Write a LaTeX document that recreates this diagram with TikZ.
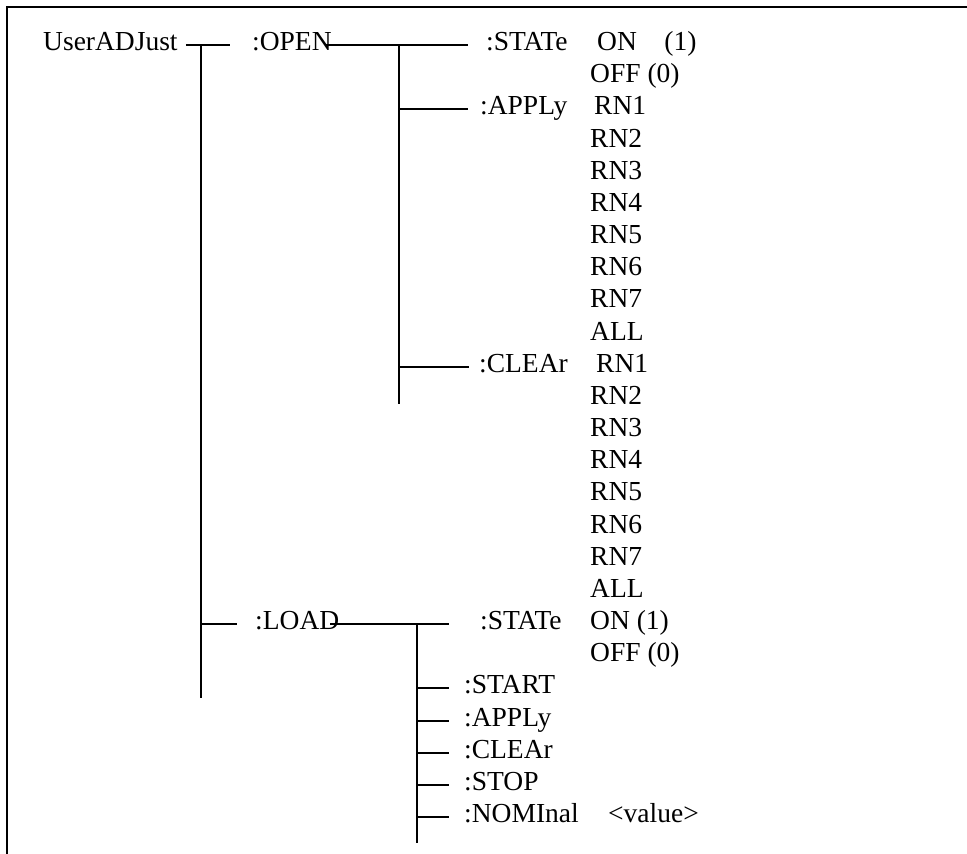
\documentclass[tikz,border=0pt]{standalone}
\usepackage{fontspec}
\setmainfont{Liberation Serif}
\usetikzlibrary{calc}
\tikzset{
    cmd/.style={
        anchor=base west, inner sep=0pt,
        text height=14pt, text depth=4pt,
        font=\fontsize{27.5}{32}\selectfont
    },
    branch/.style={line width=2pt},
    frame/.style={line width=2.4pt}
}

\begin{document}
\begin{tikzpicture}[x=1pt, y=-1pt]
    \useasboundingbox (0,0) rectangle (967,854);

    % Outer frame (top and left only)
    \coordinate (tl) at (7,7);
    \coordinate (tr) at (967,7);
    \coordinate (bl) at (7,854);
    \draw[frame] (tr) -- (tl) -- (bl);

    % Root and first level
    \node[cmd] (root) at (43,50) {UserADJust};
    \node[cmd] (open) at (252,50) {:OPEN};
    \node[cmd] (load) at (255,629) {:LOAD};

    % OPEN subtree
    \node[cmd] (ostate) at (486,50) {:STATe};
    \node[cmd] (oon) at (597,50) {ON\quad(1)};
    \node[cmd] (ooff) at (590,82) {OFF (0)};
    \node[cmd] (oapply) at (480,114) {:APPLy};
    \node[cmd] (oa1) at (594,114) {RN1};
    \node[cmd] (oa2) at (590,147) {RN2};
    \node[cmd] (oa3) at (590,179) {RN3};
    \node[cmd] (oa4) at (590,211) {RN4};
    \node[cmd] (oa5) at (590,243) {RN5};
    \node[cmd] (oa6) at (590,275) {RN6};
    \node[cmd] (oa7) at (590,307) {RN7};
    \node[cmd] (oaall) at (590,340) {ALL};
    \node[cmd] (oclear) at (479,372) {:CLEAr};
    \node[cmd] (oc1) at (596,372) {RN1};
    \node[cmd] (oc2) at (590,404) {RN2};
    \node[cmd] (oc3) at (590,436) {RN3};
    \node[cmd] (oc4) at (590,468) {RN4};
    \node[cmd] (oc5) at (590,500) {RN5};
    \node[cmd] (oc6) at (590,533) {RN6};
    \node[cmd] (oc7) at (590,565) {RN7};
    \node[cmd] (ocall) at (590,597) {ALL};

    % LOAD subtree
    \node[cmd] (lstate) at (480,629) {:STATe};
    \node[cmd] (lon) at (590,629) {ON (1)};
    \node[cmd] (loff) at (590,661) {OFF (0)};
    \node[cmd] (lstart) at (464,693) {:START};
    \node[cmd] (lapply) at (464,726) {:APPLy};
    \node[cmd] (lclear) at (464,758) {:CLEAr};
    \node[cmd] (lstop) at (464,790) {:STOP};
    \node[cmd] (lnom) at (464,822) {:NOMInal};
    \node[cmd] (lval) at (608,822) {\textless value\textgreater};

    % Vertical bars
    \coordinate (v1top) at (201,45);
    \coordinate (v1bot) at (201,698);
    \coordinate (v2top) at (399,45);
    \coordinate (v2bot) at (399,404);
    \coordinate (v3top) at (417,624);
    \coordinate (v3bot) at (417,843);
    \draw[branch] (v1top) -- (v1bot);
    \draw[branch] (v2top) -- (v2bot);
    \draw[branch] (v3top) -- (v3bot);

    % Branches
    \draw[branch] ([xshift=8pt]root.east) -- ([xshift=-22pt]open.west);
    \draw[branch] (v1top |- load.west) -- ([xshift=-18pt]load.west);
    \draw[branch] ([xshift=-6pt]open.east) -- ([xshift=-18pt]ostate.west);
    \draw[branch] (v2top |- oapply.west) -- ([xshift=-12pt]oapply.west);
    \draw[branch] (v2top |- oclear.west) -- ([xshift=-10pt]oclear.west);
    \draw[branch] ([xshift=-9pt]load.east) -- ([xshift=-31pt]lstate.west);
    \draw[branch] (v3top |- lstart.west) -- ([xshift=-15pt]lstart.west);
    \draw[branch] (v3top |- lapply.west) -- ([xshift=-15pt]lapply.west);
    \draw[branch] (v3top |- lclear.west) -- ([xshift=-15pt]lclear.west);
    \draw[branch] (v3top |- lstop.west) -- ([xshift=-15pt]lstop.west);
    \draw[branch] (v3top |- lnom.west) -- ([xshift=-15pt]lnom.west);

\end{tikzpicture}
\end{document}
